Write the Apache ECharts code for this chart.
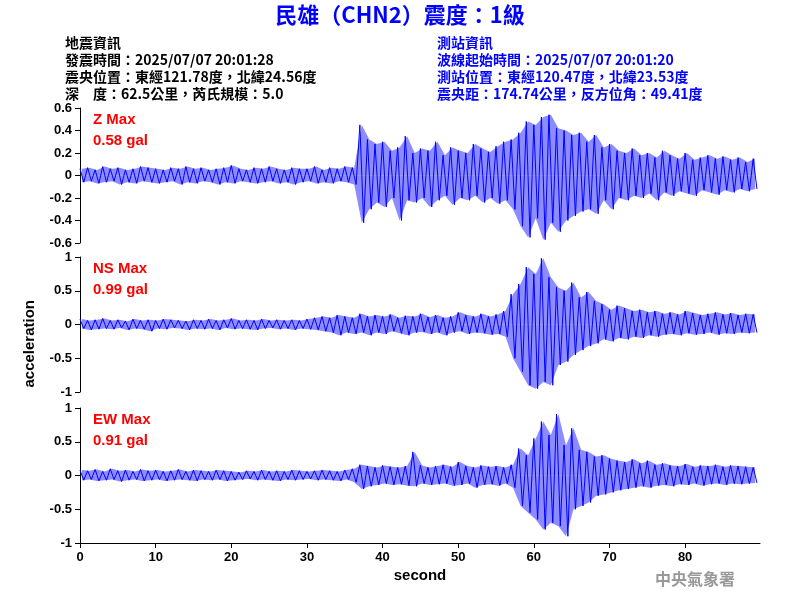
<!DOCTYPE html>
<html><head><meta charset="utf-8">
<script src="https://cdn.jsdelivr.net/npm/echarts@6/dist/echarts.min.js"></script>
<style>body{margin:0}#c{width:800px;height:600px}</style>
</head><body><div id="c"></div>
<script>
// per-second peak values (upper, lower), 0..89 s
var zUp=[0.06,0.07,0.05,0.08,0.06,0.07,0.05,0.06,0.08,0.07,0.06,0.05,0.07,0.06,0.08,0.06,0.07,0.05,0.06,0.07,0.09,0.06,0.05,0.07,0.06,0.08,0.06,0.05,0.07,0.06,0.06,0.08,0.05,0.07,0.06,0.08,0.07,
 0.45,0.32,0.28,0.30,0.22,0.25,0.35,0.20,0.24,0.22,0.30,0.18,0.25,0.22,0.20,0.28,0.24,0.21,0.26,0.30,0.32,
 0.38,0.48,0.45,0.52,0.54,0.42,0.40,0.36,0.38,0.30,0.36,0.25,0.28,0.22,0.20,0.24,0.18,0.20,0.16,0.22,0.18,0.15,0.20,0.14,0.16,0.18,0.15,0.17,0.14,0.16,0.12,0.15];
var zLo=[-0.06,-0.05,-0.07,-0.06,-0.05,-0.08,-0.06,-0.07,-0.05,-0.06,-0.07,-0.06,-0.05,-0.08,-0.06,-0.07,-0.05,-0.06,-0.08,-0.06,-0.07,-0.05,-0.06,-0.07,-0.06,-0.05,-0.07,-0.06,-0.08,-0.06,-0.05,-0.07,-0.06,-0.07,-0.05,-0.06,-0.08,
 -0.42,-0.30,-0.24,-0.28,-0.20,-0.40,-0.22,-0.24,-0.20,-0.28,-0.22,-0.18,-0.26,-0.20,-0.22,-0.18,-0.24,-0.20,-0.25,-0.22,-0.30,
 -0.45,-0.55,-0.38,-0.57,-0.42,-0.50,-0.40,-0.36,-0.32,-0.30,-0.34,-0.22,-0.30,-0.20,-0.22,-0.18,-0.20,-0.16,-0.22,-0.15,-0.18,-0.14,-0.16,-0.18,-0.13,-0.15,-0.17,-0.13,-0.15,-0.12,-0.14,-0.12];
var nUp=[0.08,0.06,0.07,0.09,0.06,0.07,0.05,0.08,0.06,0.07,0.06,0.08,0.07,0.06,0.05,0.07,0.06,0.08,0.06,0.07,0.09,0.06,0.07,0.06,0.08,0.06,0.07,0.06,0.07,0.06,0.08,0.10,0.12,0.10,0.14,0.12,0.10,
 0.16,0.12,0.14,0.12,0.15,0.10,0.13,0.12,0.16,0.11,0.14,0.10,0.12,0.18,0.14,0.12,0.16,0.12,0.15,0.20,0.45,
 0.60,0.85,0.75,0.98,0.70,0.55,0.50,0.62,0.40,0.48,0.35,0.30,0.22,0.28,0.24,0.20,0.22,0.18,0.20,0.16,0.18,0.15,0.20,0.17,0.14,0.16,0.18,0.15,0.17,0.14,0.16,0.15];
var nLo=[-0.06,-0.08,-0.07,-0.06,-0.07,-0.05,-0.08,-0.06,-0.07,-0.10,-0.06,-0.07,-0.05,-0.06,-0.08,-0.06,-0.07,-0.06,-0.08,-0.05,-0.07,-0.06,-0.07,-0.08,-0.06,-0.05,-0.07,-0.06,-0.08,-0.06,-0.07,-0.08,-0.10,-0.12,-0.16,-0.12,-0.14,
 -0.12,-0.16,-0.12,-0.14,-0.10,-0.13,-0.16,-0.12,-0.11,-0.14,-0.12,-0.16,-0.12,-0.10,-0.14,-0.12,-0.13,-0.15,-0.14,-0.18,-0.50,
 -0.70,-0.90,-0.95,-0.85,-0.90,-0.60,-0.55,-0.45,-0.38,-0.32,-0.28,-0.22,-0.25,-0.20,-0.22,-0.18,-0.20,-0.16,-0.18,-0.15,-0.14,-0.16,-0.13,-0.15,-0.14,-0.12,-0.15,-0.13,-0.14,-0.12,-0.13,-0.12];
var eUp=[0.08,0.07,0.09,0.06,0.10,0.07,0.08,0.06,0.09,0.07,0.08,0.06,0.07,0.09,0.06,0.08,0.07,0.06,0.08,0.07,0.06,0.05,0.07,0.06,0.08,0.06,0.07,0.06,0.08,0.07,0.06,0.07,0.08,0.07,0.06,0.08,0.10,
 0.16,0.14,0.12,0.15,0.13,0.12,0.14,0.35,0.15,0.12,0.14,0.16,0.13,0.20,0.14,0.12,0.15,0.13,0.14,0.12,0.16,
 0.40,0.30,0.55,0.80,0.60,0.91,0.45,0.70,0.38,0.35,0.28,0.30,0.25,0.22,0.20,0.24,0.18,0.22,0.16,0.18,0.15,0.14,0.17,0.13,0.15,0.14,0.16,0.13,0.15,0.14,0.13,0.12];
var eLo=[-0.07,-0.06,-0.08,-0.07,-0.06,-0.09,-0.07,-0.06,-0.08,-0.07,-0.06,-0.08,-0.07,-0.06,-0.07,-0.08,-0.06,-0.07,-0.06,-0.08,-0.07,-0.06,-0.05,-0.07,-0.06,-0.07,-0.08,-0.06,-0.07,-0.06,-0.05,-0.07,-0.06,-0.07,-0.08,-0.06,-0.10,
 -0.20,-0.16,-0.14,-0.12,-0.14,-0.13,-0.15,-0.16,-0.12,-0.14,-0.13,-0.12,-0.15,-0.14,-0.12,-0.18,-0.14,-0.13,-0.15,-0.12,-0.18,
 -0.45,-0.55,-0.65,-0.80,-0.70,-0.75,-0.90,-0.50,-0.45,-0.40,-0.30,-0.28,-0.25,-0.22,-0.20,-0.18,-0.16,-0.18,-0.15,-0.14,-0.16,-0.13,-0.14,-0.12,-0.15,-0.13,-0.12,-0.14,-0.12,-0.13,-0.12,-0.11];
var labels=[['Z Max','0.58 gal'],['NS Max','0.99 gal'],['EW Max','0.91 gal']];

function trace(up,lo){
  var d=[];
  for(var i=0;i<up.length;i++){ d.push([i,up[i]]); d.push([i+0.5,lo[i]]); }
  return d;
}
function env(v){
  var d=[];
  for(var i=0;i<v.length;i++) d.push([i+0.25,v[i]]);
  return d;
}
var ups=[zUp,nUp,eUp],los=[zLo,nLo,eLo];
var tops=[108,257,408];
var lab={fontFamily:'Liberation Sans',fontWeight:'bold',fontSize:13,color:'#000'};
var grids=[],xAxes=[],yAxes=[],series=[];
for(var k=0;k<3;k++){
  grids.push({left:80,right:40,top:tops[k],height:135});
  xAxes.push({gridIndex:k,type:'value',min:0,max:89.9,interval:10,show:k==2,
    axisLine:{onZero:false,lineStyle:{color:'#000'}},axisTick:{lineStyle:{color:'#000'}},splitLine:{show:false},
    axisLabel:Object.assign({showMaxLabel:false},lab),name:k==2?'second':'',nameLocation:'middle',nameGap:25,
    nameTextStyle:{fontFamily:'Liberation Sans',fontWeight:'bold',fontSize:15,color:'#000'}});
  yAxes.push({gridIndex:k,type:'value',min:k==0?-0.6:-1,max:k==0?0.6:1,interval:k==0?0.2:0.5,
    axisLine:{show:true,lineStyle:{color:'#000'}},axisTick:{show:true,lineStyle:{color:'#000'}},splitLine:{show:false},
    axisLabel:Object.assign({formatter:function(v){return +v.toFixed(1);}},lab)});
  // shaded envelope behind the trace
  [ups[k],los[k]].forEach(function(v){
    series.push({type:'line',xAxisIndex:k,yAxisIndex:k,data:env(v),showSymbol:false,
      lineStyle:{opacity:0},areaStyle:{color:'#0000ff',opacity:0.45,origin:0},animation:false});
  });
  series.push({type:'line',xAxisIndex:k,yAxisIndex:k,data:trace(ups[k],los[k]),showSymbol:false,
    lineStyle:{color:'#0000ff',width:1},animation:false});
}
var txt=[];
labels.forEach(function(l,k){
  txt.push({type:'text',left:93,top:tops[k]+1,z:10,style:{text:l[0]+'\n'+l[1],fill:'#ff0000',font:'bold 15px "Liberation Sans"',lineHeight:21}});
});
var cjk='"Noto Sans CJK TC"';
txt.push({type:'text',left:'center',top:4,style:{text:'民雄（CHN2）震度：1級',fill:'#0000ff',font:'bold 22px '+cjk}});
txt.push({type:'text',left:65,top:34,style:{text:'地震資訊\n發震時間：2025/07/07 20:01:28\n震央位置：東經121.78度，北緯24.56度\n深　度：62.5公里，芮氏規模：5.0',fill:'#000',font:'bold 14px '+cjk,lineHeight:17}});
txt.push({type:'text',left:437,top:34,style:{text:'測站資訊\n波線起始時間：2025/07/07 20:01:20\n測站位置：東經120.47度，北緯23.53度\n震央距：174.74公里，反方位角：49.41度',fill:'#0000ff',font:'bold 14px '+cjk,lineHeight:17}});
txt.push({type:'text',left:655,top:571,style:{text:'中央氣象署',fill:'#999',font:'bold 16px '+cjk}});
txt.push({type:'text',left:22,top:300,rotation:Math.PI/2,style:{text:'acceleration',fill:'#000',font:'bold 15px "Liberation Sans"',align:'center'}});
var chart=echarts.init(document.getElementById('c'));
chart.setOption({backgroundColor:'#fff',grid:grids,xAxis:xAxes,yAxis:yAxes,series:series,graphic:txt});
</script></body></html>
